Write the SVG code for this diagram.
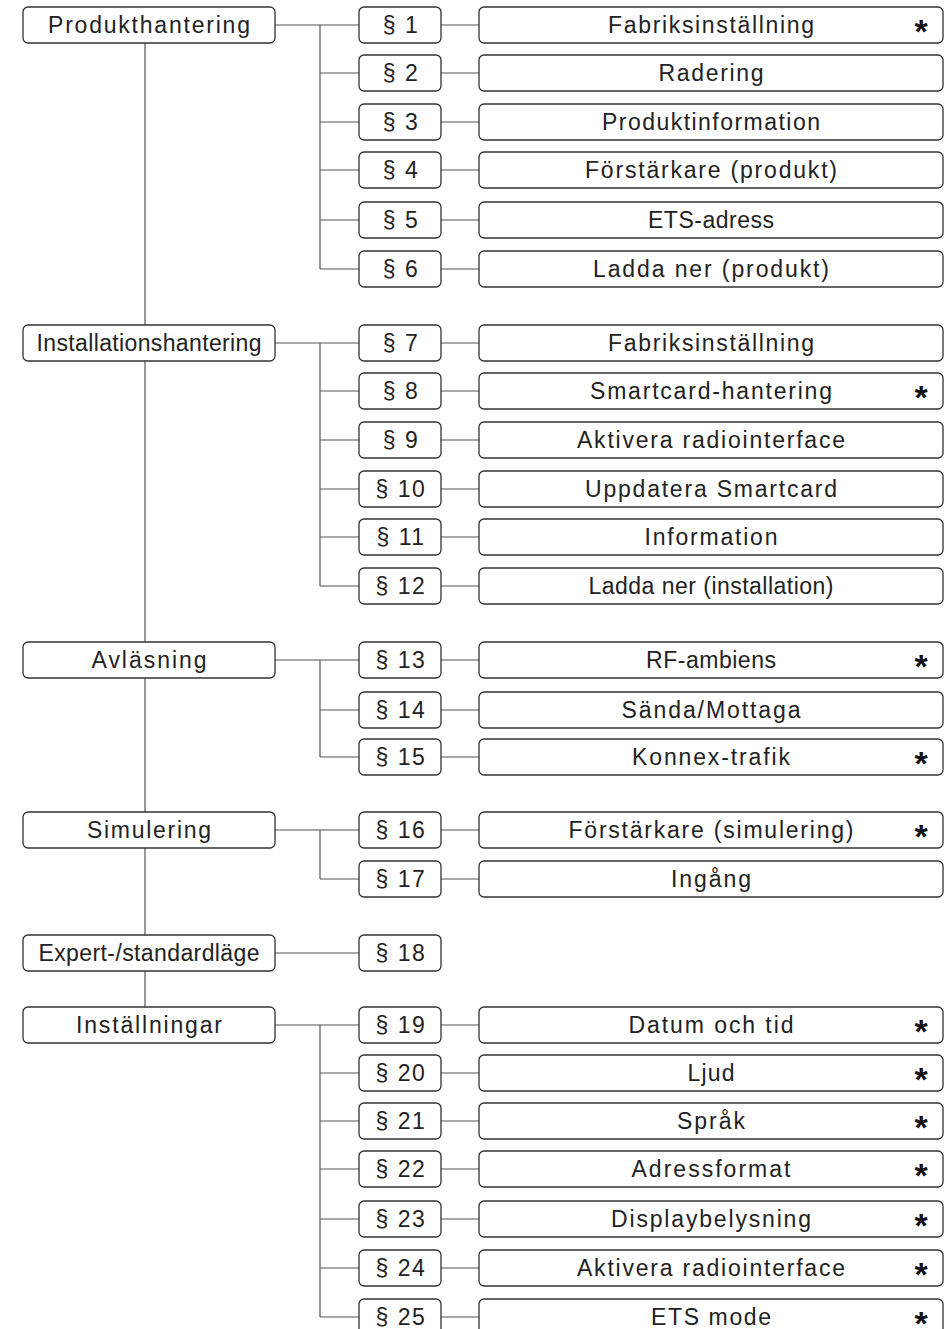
<svg xmlns="http://www.w3.org/2000/svg" width="952" height="1329" viewBox="0 0 952 1329">
<style>
.bx{fill:#fff;stroke:#333;stroke-width:1.3}
.c{fill:none;stroke:#555;stroke-width:1.2}
.t{font-family:"Liberation Sans",Arial,sans-serif;font-size:23px;fill:#222;text-anchor:middle}
.s{letter-spacing:1.5px}
.a{font-family:"Liberation Sans",Arial,sans-serif;font-size:34px;font-weight:bold;fill:#111;text-anchor:middle}
</style>
<defs>
<rect id="L" class="bx" x="23" y="-18" width="252" height="36" rx="5"/>
<rect id="S" class="bx" x="359" y="-18" width="82" height="36" rx="5"/>
<rect id="R" class="bx" x="479" y="-18" width="464" height="36" rx="5"/>
</defs>
<g id="connectors" class="c">
<path d="M145 43V1007"/>
<path d="M275 25H320M320 25V269M320 25H359M320 73H359M320 122H359M320 170H359M320 220H359M320 269H359"/>
<path d="M441 25H479M441 73H479M441 122H479M441 170H479M441 220H479M441 269H479"/>
<path d="M275 343H320M320 343V586M320 343H359M320 391H359M320 440H359M320 489H359M320 537H359M320 586H359"/>
<path d="M441 343H479M441 391H479M441 440H479M441 489H479M441 537H479M441 586H479"/>
<path d="M275 660H320M320 660V757M320 660H359M320 710H359M320 757H359"/>
<path d="M441 660H479M441 710H479M441 757H479"/>
<path d="M275 830H320M320 830V879M320 830H359M320 879H359"/>
<path d="M441 830H479M441 879H479"/>
<path d="M275 953H359"/>
<path d="M275 1025H320M320 1025V1317M320 1025H359M320 1073H359M320 1121H359M320 1169H359M320 1219H359M320 1268H359M320 1317H359"/>
<path d="M441 1025H479M441 1073H479M441 1121H479M441 1169H479M441 1219H479M441 1268H479M441 1317H479"/>
</g>

<g id="produkthantering" transform="translate(0,25)"><use href="#L"/><text class="t" x="149" y="8" textLength="202" lengthAdjust="spacing">Produkthantering</text></g>
<g id="installationshantering" transform="translate(0,343)"><use href="#L"/><text class="t" x="149" y="8" textLength="225" lengthAdjust="spacing">Installationshantering</text></g>
<g id="avlasning" transform="translate(0,660)"><use href="#L"/><text class="t" x="149" y="8" textLength="115" lengthAdjust="spacing">Avläsning</text></g>
<g id="simulering" transform="translate(0,830)"><use href="#L"/><text class="t" x="149" y="8" textLength="124" lengthAdjust="spacing">Simulering</text></g>
<g id="expert" transform="translate(0,953)"><use href="#L"/><text class="t" x="149" y="8" textLength="221" lengthAdjust="spacing">Expert-/standardläge</text></g>
<g id="installningar" transform="translate(0,1025)"><use href="#L"/><text class="t" x="149" y="8" textLength="146" lengthAdjust="spacing">Inställningar</text></g>

<g id="p1" transform="translate(0,25)"><use href="#S"/><text class="t s" x="401" y="8">§ 1</text><use href="#R"/><text class="t" x="711" y="8" textLength="206" lengthAdjust="spacing">Fabriksinställning</text><text class="a" x="921" y="18">*</text></g>
<g id="p2" transform="translate(0,73)"><use href="#S"/><text class="t s" x="401" y="8">§ 2</text><use href="#R"/><text class="t" x="711" y="8" textLength="105" lengthAdjust="spacing">Radering</text></g>
<g id="p3" transform="translate(0,122)"><use href="#S"/><text class="t s" x="401" y="8">§ 3</text><use href="#R"/><text class="t" x="711" y="8" textLength="218" lengthAdjust="spacing">Produktinformation</text></g>
<g id="p4" transform="translate(0,170)"><use href="#S"/><text class="t s" x="401" y="8">§ 4</text><use href="#R"/><text class="t" x="711" y="8" textLength="252" lengthAdjust="spacing">Förstärkare (produkt)</text></g>
<g id="p5" transform="translate(0,220)"><use href="#S"/><text class="t s" x="401" y="8">§ 5</text><use href="#R"/><text class="t" x="711" y="8" textLength="126" lengthAdjust="spacing">ETS-adress</text></g>
<g id="p6" transform="translate(0,269)"><use href="#S"/><text class="t s" x="401" y="8">§ 6</text><use href="#R"/><text class="t" x="711" y="8" textLength="236" lengthAdjust="spacing">Ladda ner (produkt)</text></g>

<g id="p7" transform="translate(0,343)"><use href="#S"/><text class="t s" x="401" y="8">§ 7</text><use href="#R"/><text class="t" x="711" y="8" textLength="206" lengthAdjust="spacing">Fabriksinställning</text></g>
<g id="p8" transform="translate(0,391)"><use href="#S"/><text class="t s" x="401" y="8">§ 8</text><use href="#R"/><text class="t" x="711" y="8" textLength="242" lengthAdjust="spacing">Smartcard-hantering</text><text class="a" x="921" y="18">*</text></g>
<g id="p9" transform="translate(0,440)"><use href="#S"/><text class="t s" x="401" y="8">§ 9</text><use href="#R"/><text class="t" x="711" y="8" textLength="268" lengthAdjust="spacing">Aktivera radiointerface</text></g>
<g id="p10" transform="translate(0,489)"><use href="#S"/><text class="t s" x="401" y="8">§ 10</text><use href="#R"/><text class="t" x="711" y="8" textLength="252" lengthAdjust="spacing">Uppdatera Smartcard</text></g>
<g id="p11" transform="translate(0,537)"><use href="#S"/><text class="t s" x="401" y="8">§ 11</text><use href="#R"/><text class="t" x="711" y="8" textLength="133" lengthAdjust="spacing">Information</text></g>
<g id="p12" transform="translate(0,586)"><use href="#S"/><text class="t s" x="401" y="8">§ 12</text><use href="#R"/><text class="t" x="711" y="8" textLength="245" lengthAdjust="spacing">Ladda ner (installation)</text></g>

<g id="p13" transform="translate(0,660)"><use href="#S"/><text class="t s" x="401" y="8">§ 13</text><use href="#R"/><text class="t" x="711" y="8" textLength="130" lengthAdjust="spacing">RF-ambiens</text><text class="a" x="921" y="18">*</text></g>
<g id="p14" transform="translate(0,710)"><use href="#S"/><text class="t s" x="401" y="8">§ 14</text><use href="#R"/><text class="t" x="711" y="8" textLength="179" lengthAdjust="spacing">Sända/Mottaga</text></g>
<g id="p15" transform="translate(0,757)"><use href="#S"/><text class="t s" x="401" y="8">§ 15</text><use href="#R"/><text class="t" x="711" y="8" textLength="158" lengthAdjust="spacing">Konnex-trafik</text><text class="a" x="921" y="18">*</text></g>

<g id="p16" transform="translate(0,830)"><use href="#S"/><text class="t s" x="401" y="8">§ 16</text><use href="#R"/><text class="t" x="711" y="8" textLength="285" lengthAdjust="spacing">Förstärkare (simulering)</text><text class="a" x="921" y="18">*</text></g>
<g id="p17" transform="translate(0,879)"><use href="#S"/><text class="t s" x="401" y="8">§ 17</text><use href="#R"/><text class="t" x="711" y="8" textLength="80" lengthAdjust="spacing">Ingång</text></g>

<g id="p18" transform="translate(0,953)"><use href="#S"/><text class="t s" x="401" y="8">§ 18</text></g>

<g id="p19" transform="translate(0,1025)"><use href="#S"/><text class="t s" x="401" y="8">§ 19</text><use href="#R"/><text class="t" x="711" y="8" textLength="165" lengthAdjust="spacing">Datum och tid</text><text class="a" x="921" y="18">*</text></g>
<g id="p20" transform="translate(0,1073)"><use href="#S"/><text class="t s" x="401" y="8">§ 20</text><use href="#R"/><text class="t" x="711" y="8" textLength="47" lengthAdjust="spacing">Ljud</text><text class="a" x="921" y="18">*</text></g>
<g id="p21" transform="translate(0,1121)"><use href="#S"/><text class="t s" x="401" y="8">§ 21</text><use href="#R"/><text class="t" x="711" y="8" textLength="68" lengthAdjust="spacing">Språk</text><text class="a" x="921" y="18">*</text></g>
<g id="p22" transform="translate(0,1169)"><use href="#S"/><text class="t s" x="401" y="8">§ 22</text><use href="#R"/><text class="t" x="711" y="8" textLength="159" lengthAdjust="spacing">Adressformat</text><text class="a" x="921" y="18">*</text></g>
<g id="p23" transform="translate(0,1219)"><use href="#S"/><text class="t s" x="401" y="8">§ 23</text><use href="#R"/><text class="t" x="711" y="8" textLength="200" lengthAdjust="spacing">Displaybelysning</text><text class="a" x="921" y="18">*</text></g>
<g id="p24" transform="translate(0,1268)"><use href="#S"/><text class="t s" x="401" y="8">§ 24</text><use href="#R"/><text class="t" x="711" y="8" textLength="268" lengthAdjust="spacing">Aktivera radiointerface</text><text class="a" x="921" y="18">*</text></g>
<g id="p25" transform="translate(0,1317)"><use href="#S"/><text class="t s" x="401" y="8">§ 25</text><use href="#R"/><text class="t" x="711" y="8" textLength="120" lengthAdjust="spacing">ETS mode</text><text class="a" x="921" y="18">*</text></g>
</svg>
